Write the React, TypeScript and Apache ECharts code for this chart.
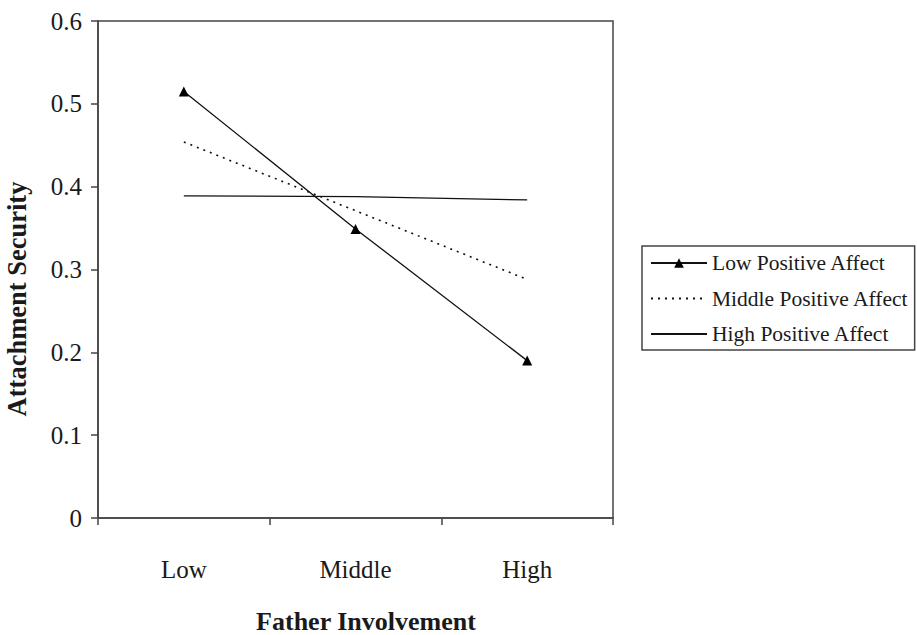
import React, { useEffect, useRef } from "react";
import * as echarts from "echarts";

const categories = ["Low", "Middle", "High"];
const lowPositiveAffect = [0.515, 0.349, 0.19];
const middlePositiveAffect = [0.454, 0.371, 0.288];
const highPositiveAffect = [0.389, 0.388, 0.384];
const seriesNames = ["Low Positive Affect", "Middle Positive Affect", "High Positive Affect"];
const xTitle = "Father Involvement";
const yTitle = "Attachment Security";

const FONT = '"Liberation Serif", "Times New Roman", serif';
const INK = "#1a1a1a";
const AXIS = "#444";

export default function App() {
  const ref = useRef<HTMLDivElement>(null);
  useEffect(() => {
    if (!ref.current) return;
    const chart = echarts.init(ref.current, undefined, { renderer: "svg" });
    const hidden = { color: "rgba(0,0,0,0)", borderWidth: 0, opacity: 0 };
    chart.setOption({
      animation: false,
      backgroundColor: "#fff",
      textStyle: { fontFamily: FONT },
      grid: {
        left: 98,
        right: 304,
        top: 21,
        bottom: 117,
        show: true,
        borderColor: AXIS,
        borderWidth: 1.5,
        backgroundColor: "transparent",
      },
      legend: {
        orient: "vertical",
        left: 642,
        top: 246,
        padding: [6, 6, 5, 8],
        itemGap: 13.5,
        itemWidth: 56,
        itemHeight: 12,
        borderColor: AXIS,
        borderWidth: 1.5,
        textStyle: { fontFamily: FONT, fontSize: 21.5, color: INK },
        data: [
          { name: seriesNames[0] },
          { name: seriesNames[1], itemStyle: hidden },
          { name: seriesNames[2], itemStyle: hidden },
        ],
      },
      graphic: [
        {
          type: "text",
          x: 366,
          y: 621,
          style: {
            text: xTitle,
            align: "center",
            verticalAlign: "middle",
            font: `bold 26px ${FONT}`,
            fill: INK,
          },
        },
        {
          type: "text",
          x: 16.5,
          y: 299,
          rotation: Math.PI / 2,
          style: {
            text: yTitle,
            align: "center",
            verticalAlign: "middle",
            font: `bold 26.5px ${FONT}`,
            fill: INK,
          },
        },
      ],
      xAxis: {
        type: "category",
        data: categories,
        boundaryGap: true,
        axisLine: { lineStyle: { color: AXIS, width: 1.5 } },
        axisTick: { show: true, length: 7, lineStyle: { color: AXIS, width: 1.5 } },
        axisLabel: { margin: 39, fontFamily: FONT, fontSize: 25, color: INK },
        splitLine: { show: false },
      },
      yAxis: {
        type: "value",
        min: 0,
        max: 0.6,
        interval: 0.1,
        axisLine: { show: true, lineStyle: { color: AXIS, width: 1.5 } },
        axisTick: { show: true, length: 7, lineStyle: { color: AXIS, width: 1.5 } },
        axisLabel: {
          margin: 16,
          fontFamily: FONT,
          fontSize: 25,
          color: INK,
          formatter: (v: number) => (v === 0 ? "0" : v.toFixed(1)),
        },
        splitLine: { show: false },
      },
      series: [
        {
          name: seriesNames[0],
          type: "line",
          data: lowPositiveAffect,
          symbol: "triangle",
          symbolSize: 10,
          itemStyle: { color: "#000" },
          lineStyle: { color: "#111", width: 1.3, type: "solid" },
        },
        {
          name: seriesNames[1],
          type: "line",
          data: middlePositiveAffect,
          symbol: "none",
          itemStyle: { color: "#111" },
          lineStyle: { color: "#111", width: 1.6, type: [2, 5] },
        },
        {
          name: seriesNames[2],
          type: "line",
          data: highPositiveAffect,
          symbol: "none",
          itemStyle: { color: "#111" },
          lineStyle: { color: "#111", width: 1.3, type: "solid" },
        },
      ],
    });
    return () => chart.dispose();
  }, []);
  return (
    <div
      ref={ref}
      style={{ position: "fixed", left: 0, top: 0, width: 917, height: 635, overflow: "hidden" }}
    />
  );
}
